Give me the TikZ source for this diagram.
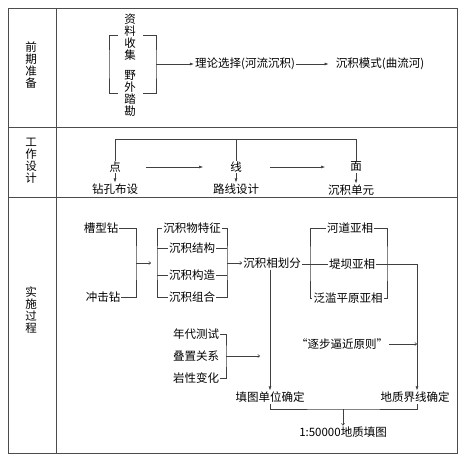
\documentclass[tikz,border=0pt]{standalone}
\usepackage{fontspec}
\setmainfont{Noto Sans CJK SC}
\usepackage{tikz}
\usetikzlibrary{arrows.meta, positioning}

\begin{document}
\begin{tikzpicture}[
    x=1pt, y=-1pt,
    every node/.style={font=\fontsize{11.5}{12}\selectfont, inner sep=1pt},
    vtxt/.style={align=center, font=\fontsize{11.5}{12}\selectfont},
    frame/.style={draw=black!70, line width=0.7pt},
    link/.style={draw=black!75, line width=0.6pt},
    arr/.style={link, -{Latex[length=4pt, width=3pt]}},
    tip/.style={link, -{To[length=2.5pt, width=3.5pt]}}
]
\useasboundingbox (0,0) rectangle (471,461);
% table
\draw[frame] (8,8) rectangle (457,453);
\draw[frame] (56,8) -- (56,453);
\draw[frame] (8,127) -- (457,127);
\draw[frame] (8,197) -- (457,197);

\node[vtxt] (prep) at (31,65) {前\\期\\准\\备};
\node[vtxt] (design) at (31,161) {工\\作\\设\\计};
\node[vtxt] (impl) at (31,310) {实\\施\\过\\程};

% row 1
\node[vtxt] (collect) at (130,37) {资\\料\\收\\集};
\node[vtxt] (survey) at (130,93) {野\\外\\踏\\勘};
\coordinate (bin) at (109,64);
\coordinate (bout) at (156,64);
\draw[link] (118,35) -| (bin) |- (118,93);
\draw[link] (143,35) -| (bout) |- (143,93);
\node (theory) at (245,64) {理论选择(河流沉积)};
\node (model) at (380,64) {沉积模式(曲流河)};
\draw[arr] (bout) -- (theory.west);
\draw[arr, shorten >=6pt] (theory) -- (model);

% row 2
\coordinate (top) at (0,139);
\node (dot) at (115,167) {点};
\node (line) at (236,167) {线};
\node (face) at (356,167) {面};
\node (drill) at (115,189) {钻孔布设};
\node (route) at (236,189) {路线设计};
\node (unit) at (351,190) {沉积单元};
\draw[link] (dot.north) -- (dot.north |- top) -- (face.north |- top) -- (face.north);
\draw[link] (line.north) -- (line.north |- top);
\draw[arr] (dot.south) -- (drill.north);
\draw[arr] (line.south) -- (route.north);
\draw[arr] (face.south) -- (face.south |- unit.north);
\draw[arr, shorten <=24pt, shorten >=26pt] (dot) -- (line);
\draw[arr, shorten <=27pt, shorten >=24pt] (line) -- (face);

% row 3
\node (groove) at (101,228) {槽型钻};
\node (impact) at (103,297) {冲击钻};
\coordinate (drillbar) at (136,263);
\draw[link] (groove.east) -| (drillbar) |- (impact.east);

\node (feat1) at (192,228) {沉积物特征};
\node (feat2) at (192,248) {沉积结构};
\node (feat3) at (192,275) {沉积构造};
\node (feat4) at (192,297) {沉积组合};
\coordinate (featbar) at (157,263);
\coordinate (featout) at (227,263);
\draw[tip, shorten >=6pt] (drillbar) -- (featbar);
\draw[link] (feat1.west) -| (featbar) |- (feat4.west);
\draw[link] (feat1.east) -| (featout) |- (feat4.east);
\foreach \f in {feat2, feat3} {
    \draw[link] (\f.west) -- (\f.west -| featbar);
    \draw[link] (\f.east) -- (\f.east -| featout);
}

\node (facies) at (272,263) {沉积相划分};
\draw[tip] (featout) -- (facies.west);

\node (sub1) at (350,228) {河道亚相};
\node (sub2) at (352,264) {堤坝亚相};
\node (sub3) at (348,298) {泛滥平原亚相};
\coordinate (subin) at (310,264);
\coordinate (subout) at (387,264);
\draw[link] (facies.east |- sub2) -- (sub2.west);
\draw[link] (sub1.west) -| (subin) |- (sub3.west);
\draw[link] (sub1.east) -| (subout) |- (sub3.east);

\node (age) at (196,334) {年代测试};
\node (stack) at (196,356) {叠置关系};
\node (litho) at (196,378) {岩性变化};
\coordinate (agebar) at (226,356);
\coordinate (agetip) at (260,356);
\draw[link] (age.east) -| (agebar) |- (litho.east);
\draw[tip] (agebar) -- (agetip);

\node (rule) at (342,344) {“逐步逼近原则”};

\node (fillunit) at (270,397) {填图单位确定};
\node (bound) at (415,397) {地质界线确定};
\coordinate (bturn) at (417,264);
\draw[arr] (sub2.east) -- (bturn) -- (bturn |- bound.north);
\draw[arr] (facies.south -| fillunit.north) -- (fillunit.north);
\draw[tip] (rule.east) -- (rule.east -| bturn);

\node (map) at (343,432) {1:50000地质填图};
\coordinate (mj) at (343,409);
\draw[link] (fillunit.south) |- (mj) -| (bturn |- bound.south);
\draw[tip] (mj) -- (map.north);
\end{tikzpicture}
\end{document}
